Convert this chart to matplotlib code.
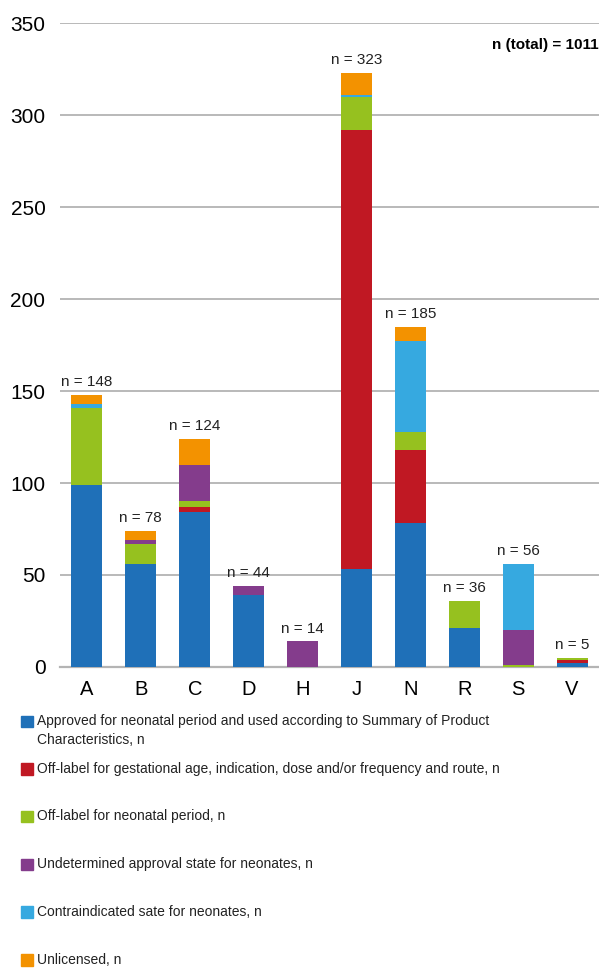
import matplotlib.pyplot as plt
import numpy as np

plt.rcParams['font.family'] = ['Liberation Sans', 'DejaVu Sans']

# ATC groups
groups = ['A', 'B', 'C', 'D', 'H', 'J', 'N', 'R', 'S', 'V']
n_labels = ['n = 148', 'n = 78', 'n = 124', 'n = 44', 'n = 14',
            'n = 323', 'n = 185', 'n = 36', 'n = 56', 'n = 5']

# stacked counts
approved       = [99, 56, 84, 39, 0, 53, 78, 21, 0, 2]
offlabel_ga    = [0, 0, 3, 0, 0, 239, 40, 0, 0, 2]
offlabel_neo   = [42, 11, 3, 0, 0, 18, 10, 15, 1, 1]
undetermined   = [0, 2, 20, 5, 14, 0, 0, 0, 19, 0]
contraindic    = [2, 0, 0, 0, 0, 1, 49, 0, 36, 0]
unlicensed     = [5, 5, 14, 0, 0, 12, 8, 0, 0, 0]

series = [approved, offlabel_ga, offlabel_neo, undetermined, contraindic, unlicensed]
names = ['Approved for neonatal period and used according to Summary of Product\nCharacteristics, n',
         'Off-label for gestational age, indication, dose and/or frequency and route, n',
         'Off-label for neonatal period, n',
         'Undetermined approval state for neonates, n',
         'Contraindicated sate for neonates, n',
         'Unlicensed, n']
colors = ['#1f70b8', '#c01823', '#96c11f', '#843c8c', '#36a9e0', '#f39200']

fig = plt.figure(figsize=(5.99, 9.68), dpi=100)
ax = fig.add_axes([0.1002, 0.311, 0.8998, 0.665])

x = np.arange(len(groups))
bottom = np.zeros(len(groups))
for vals, c in zip(series, colors):
    ax.bar(x, vals, 0.575, bottom=bottom, color=c, zorder=3)
    bottom += np.array(vals)

# n labels over each bar
for xi, top, lab in zip(x, bottom, n_labels):
    ax.annotate(lab, (xi, top), xytext=(0, 4), textcoords='offset points',
                ha='center', va='bottom', fontsize=11, color='#222222')

ax.text(1.0, 338, 'n (total) = 1011', transform=ax.get_yaxis_transform(),
        ha='right', va='center', fontsize=11, fontweight='bold')

ax.set_xlim(-0.5, 9.5)
ax.set_ylim(0, 350)
ax.set_yticks(range(0, 351, 50))
ax.set_xticks(x)
ax.set_xticklabels(groups)
ax.tick_params(axis='y', length=0, pad=10.5, labelsize=15)
ax.tick_params(axis='x', length=0, pad=9.5, labelsize=14.5)
ax.grid(axis='y', color='#a6a6a6', linewidth=1.1, zorder=0)
for s in ['top', 'right', 'left']:
    ax.spines[s].set_visible(False)
ax.spines['bottom'].set_color('#b4b4b4')
ax.spines['bottom'].set_linewidth(1.6)

# legend below the chart
y0 = 722
step = 47.7
for i, (name, c) in enumerate(zip(names, colors)):
    yc = y0 + i * step
    fig.patches.append(plt.Rectangle((21 / 599, 1 - (yc + 5) / 968), 11.5 / 599, 11.5 / 968,
                                     transform=fig.transFigure, color=c))
    fig.text(37 / 599, 1 - (yc - 8) / 968, name, ha='left', va='top',
             fontsize=10, color='#222222', linespacing=1.45)

fig.savefig('out.png', dpi=100)
